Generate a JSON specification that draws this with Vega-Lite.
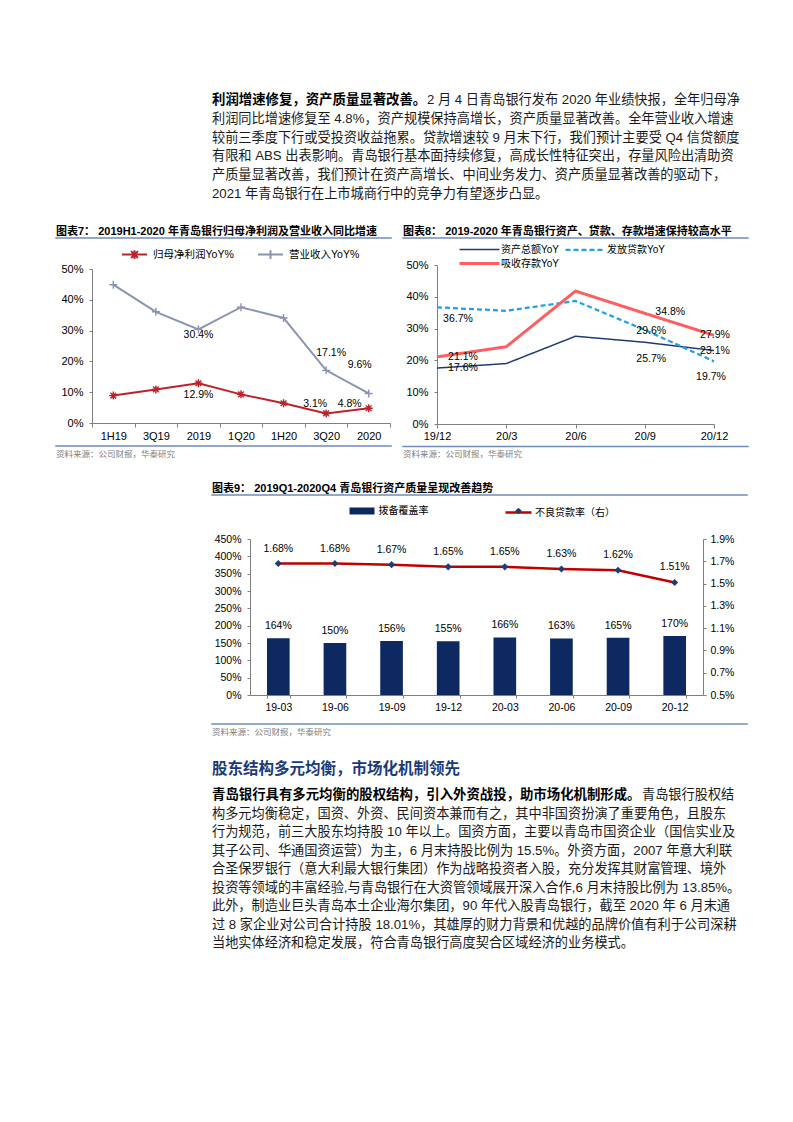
{
  "$schema": "https://vega.github.io/schema/vega-lite/v6.json",
  "background": "white",
  "padding": {"left": 55, "top": 93, "right": 10, "bottom": 10},
  "config": {
    "font": "Liberation Sans, Noto Sans CJK SC",
    "view": {"stroke": null},
    "axis": {"domainColor": "#7f7f7f", "tickColor": "#7f7f7f", "labelColor": "#000000", "grid": false, "labelFontSize": 11, "domainWidth": 1, "tickWidth": 1},
    "legend": {"padding": 0, "labelColor": "#000000", "labelFontSize": 10.5},
    "title": {"anchor": "start", "frame": "group", "color": "#000000"},
    "text": {"fontSize": 10.5, "color": "#000000"}
  },
  "resolve": {"scale": {"color": "independent", "stroke": "independent", "fill": "independent", "shape": "independent", "strokeDash": "independent", "strokeWidth": "independent"}, "legend": {"color": "independent", "stroke": "independent", "fill": "independent", "shape": "independent", "strokeDash": "independent", "strokeWidth": "independent"}},
  "spacing": 24,
  "vconcat": [
    {
      "spacing": 0,
      "hconcat": [
        {"width": 156, "height": 1, "data": {"values": []}, "mark": "point"},
        {
          "width": 524, "height": 94,
          "data": {"values": [
            {"ln": 1, "c": 0, "w": "b", "t": "利润增速修复，资产质量显著改善。"},
            {"ln": 1, "c": 16, "w": "n", "t": "2 月 4 日青岛银行发布 2020 年业绩快报，全年归母净"},
            {"ln": 2, "c": 0, "w": "n", "t": "利润同比增速修复至 4.8%，资产规模保持高增长，资产质量显著改善。全年营业收入增速"},
            {"ln": 3, "c": 0, "w": "n", "t": "较前三季度下行或受投资收益拖累。贷款增速较 9 月末下行，我们预计主要受 Q4 信贷额度"},
            {"ln": 4, "c": 0, "w": "n", "t": "有限和 ABS 出表影响。青岛银行基本面持续修复，高成长性特征突出，存量风险出清助资"},
            {"ln": 5, "c": 0, "w": "n", "t": "产质量显著改善，我们预计在资产高增长、中间业务发力、资产质量显著改善的驱动下，"},
            {"ln": 6, "c": 0, "w": "n", "t": "2021 年青岛银行在上市城商行中的竞争力有望逐步凸显。"}
          ]},
          "encoding": {
            "x": {"field": "c", "type": "quantitative", "scale": {"domain": [0, 39], "nice": false, "zero": false}, "axis": null},
            "y": {"field": "ln", "type": "ordinal", "scale": {"type": "point", "padding": 0}, "axis": null},
            "text": {"field": "t", "type": "nominal"}
          },
          "layer": [
            {"transform": [{"filter": "datum.w === 'b'"}], "mark": {"type": "text", "align": "left", "baseline": "middle", "fontSize": 13.4, "fontWeight": "bold", "color": "#000000"}},
            {"transform": [{"filter": "datum.w === 'n'"}], "mark": {"type": "text", "align": "left", "baseline": "middle", "fontSize": 13.2, "color": "#1a1a1a"}}
          ]
        }
      ]
    },
    {
      "spacing": 22,
      "resolve": {"scale": {"color": "independent", "stroke": "independent", "fill": "independent", "shape": "independent", "strokeDash": "independent", "strokeWidth": "independent"}, "legend": {"color": "independent", "stroke": "independent", "fill": "independent", "shape": "independent", "strokeDash": "independent", "strokeWidth": "independent"}},
      "vconcat": [
        {
          "spacing": 10,
          "resolve": {"scale": {"color": "independent", "stroke": "independent", "fill": "independent", "shape": "independent", "strokeDash": "independent", "strokeWidth": "independent"}, "legend": {"color": "independent", "stroke": "independent", "fill": "independent", "shape": "independent", "strokeDash": "independent", "strokeWidth": "independent"}},
          "hconcat": [
            {
              "spacing": 8,
              "resolve": {"scale": {"color": "independent", "shape": "independent"}, "legend": {"color": "independent", "shape": "independent"}},
              "vconcat": [
                {"width": 335, "height": 0.01, "view": {"stroke": "#6E8DBE", "strokeWidth": 1.5}, "title": {"text": "图表7：  2019H1-2020 年青岛银行归母净利润及营业收入同比增速", "fontSize": 11, "fontWeight": "bold", "offset": 1}, "data": {"values": []}, "mark": "point"},
                {
                  "spacing": 4,
                  "resolve": {"scale": {"color": "independent", "shape": "independent"}, "legend": {"color": "independent", "shape": "independent"}},
                  "vconcat": [
                    {
                      "spacing": 0,
                      "resolve": {"scale": {"color": "independent", "shape": "independent"}, "legend": {"color": "independent", "shape": "independent"}},
                      "hconcat": [
                        {"width": 4, "height": 1, "data": {"values": []}, "mark": "point"},
                        {
                          "width": 298, "height": 154,
                          "data": {"values": [
                            {"s": "营业收入YoY%", "q": "1H19", "v": 0.449},
                            {"s": "营业收入YoY%", "q": "3Q19", "v": 0.361},
                            {"s": "营业收入YoY%", "q": "2019", "v": 0.304},
                            {"s": "营业收入YoY%", "q": "1Q20", "v": 0.376},
                            {"s": "营业收入YoY%", "q": "1H20", "v": 0.341},
                            {"s": "营业收入YoY%", "q": "3Q20", "v": 0.171},
                            {"s": "营业收入YoY%", "q": "2020", "v": 0.096},
                            {"s": "归母净利润YoY%", "q": "1H19", "v": 0.089},
                            {"s": "归母净利润YoY%", "q": "3Q19", "v": 0.109},
                            {"s": "归母净利润YoY%", "q": "2019", "v": 0.129},
                            {"s": "归母净利润YoY%", "q": "1Q20", "v": 0.093},
                            {"s": "归母净利润YoY%", "q": "1H20", "v": 0.064},
                            {"s": "归母净利润YoY%", "q": "3Q20", "v": 0.031},
                            {"s": "归母净利润YoY%", "q": "2020", "v": 0.048}
                          ]},
                          "encoding": {
                            "x": {"field": "q", "type": "nominal", "scale": {"type": "band", "domain": ["1H19", "3Q19", "2019", "1Q20", "1H20", "3Q20", "2020"], "paddingInner": 0, "paddingOuter": 0}, "axis": {"title": null, "labelAngle": 0, "tickBand": "extent", "tickSize": 4, "labelPadding": 3, "labelFontSize": 11}},
                            "y": {"field": "v", "type": "quantitative", "scale": {"domain": [0, 0.5]}, "axis": {"title": null, "values": [0, 0.1, 0.2, 0.3, 0.4, 0.5], "format": ".0%", "tickSize": 3, "labelPadding": 6, "labelFontSize": 11}}
                          },
                          "layer": [
                            {"mark": {"type": "point", "filled": false, "opacity": 0, "size": 1}, "encoding": {
                              "color": {"field": "s", "type": "nominal", "scale": {"domain": ["归母净利润YoY%", "营业收入YoY%"], "range": ["#C0202A", "#8A93B2"]}, "legend": {"title": null, "orient": "none", "direction": "horizontal", "legendX": 35, "legendY": -22, "symbolSize": 156, "symbolStrokeWidth": 2, "symbolOpacity": 1, "labelOffset": 11, "columnPadding": 20, "labelFontSize": 10.5}},
                              "shape": {"field": "s", "type": "nominal", "scale": {"domain": ["归母净利润YoY%", "营业收入YoY%"], "range": ["M-2,0L2,0M-0.55,-0.55L0.55,0.55M-0.55,0.55L0.55,-0.55M0,-0.7L0,0.7", "M-2,0L2,0M0,-0.7L0,0.7"]}, "legend": {"title": null, "orient": "none", "direction": "horizontal", "legendX": 35, "legendY": -22, "symbolSize": 156, "symbolStrokeWidth": 2, "symbolOpacity": 1, "labelOffset": 11, "columnPadding": 20, "labelFontSize": 10.5}}
                            }},
                            {"mark": {"type": "line", "strokeWidth": 2}, "encoding": {"color": {"field": "s", "type": "nominal"}}},
                            {"transform": [{"filter": "datum.s === '归母净利润YoY%'"}], "mark": {"type": "point", "shape": "M-1,0L1,0M0,-1L0,1M-0.71,-0.71L0.71,0.71M-0.71,0.71L0.71,-0.71", "filled": false, "strokeWidth": 1.4, "size": 64, "opacity": 1}, "encoding": {"color": {"field": "s", "type": "nominal"}}},
                            {"transform": [{"filter": "datum.s === '营业收入YoY%'"}], "mark": {"type": "point", "shape": "M-1,0L1,0M0,-1L0,1", "filled": false, "strokeWidth": 1.4, "size": 64, "opacity": 1}, "encoding": {"color": {"field": "s", "type": "nominal"}}},
                            {"transform": [{"filter": "datum.s === '营业收入YoY%' && datum.q === '2019'"}], "mark": {"type": "text", "dy": 5.5, "fontSize": 10.5}, "encoding": {"text": {"field": "v", "type": "quantitative", "format": ".1%"}}},
                            {"transform": [{"filter": "datum.s === '归母净利润YoY%' && datum.q === '2019'"}], "mark": {"type": "text", "dy": 12, "fontSize": 10.5}, "encoding": {"text": {"field": "v", "type": "quantitative", "format": ".1%"}}},
                            {"transform": [{"filter": "datum.s === '营业收入YoY%' && datum.q === '3Q20'"}], "mark": {"type": "text", "dx": 5, "dy": -17.5, "fontSize": 10.5}, "encoding": {"text": {"field": "v", "type": "quantitative", "format": ".1%"}}},
                            {"transform": [{"filter": "datum.s === '营业收入YoY%' && datum.q === '2020'"}], "mark": {"type": "text", "dx": -9, "dy": -28, "fontSize": 10.5}, "encoding": {"text": {"field": "v", "type": "quantitative", "format": ".1%"}}},
                            {"transform": [{"filter": "datum.s === '归母净利润YoY%' && datum.q === '3Q20'"}], "mark": {"type": "text", "dx": -11, "dy": -9.5, "fontSize": 10.5}, "encoding": {"text": {"field": "v", "type": "quantitative", "format": ".1%"}}},
                            {"transform": [{"filter": "datum.s === '归母净利润YoY%' && datum.q === '2020'"}], "mark": {"type": "text", "dx": -19, "dy": -4.5, "fontSize": 10.5}, "encoding": {"text": {"field": "v", "type": "quantitative", "format": ".1%"}}}
                          ]
                        }
                      ]
                    },
                    {"width": 335, "height": 0.01, "view": {"stroke": "#6E8DBE", "strokeWidth": 1.5}, "title": {"text": "资料来源：公司财报，华泰研究", "orient": "bottom", "fontSize": 8.5, "fontWeight": "normal", "color": "#808080", "offset": 3.5}, "data": {"values": []}, "mark": "point"}
                  ]
                }
              ]
            },
            {
              "spacing": 4,
              "resolve": {"scale": {"color": "independent", "strokeDash": "independent", "strokeWidth": "independent"}, "legend": {"color": "independent", "strokeDash": "independent", "strokeWidth": "independent"}},
              "vconcat": [
                {"width": 345, "height": 0.01, "view": {"stroke": "#6E8DBE", "strokeWidth": 1.5}, "title": {"text": "图表8：  2019-2020 年青岛银行资产、贷款、存款增速保持较高水平", "fontSize": 11, "fontWeight": "bold", "offset": 1}, "data": {"values": []}, "mark": "point"},
                {
                  "spacing": 4.5,
                  "resolve": {"scale": {"color": "independent", "strokeDash": "independent", "strokeWidth": "independent"}, "legend": {"color": "independent", "strokeDash": "independent", "strokeWidth": "independent"}},
                  "vconcat": [
                    {
                      "spacing": 0,
                      "resolve": {"scale": {"color": "independent", "strokeDash": "independent", "strokeWidth": "independent"}, "legend": {"color": "independent", "strokeDash": "independent", "strokeWidth": "independent"}},
                      "hconcat": [
                        {"width": 2, "height": 1, "data": {"values": []}, "mark": "point"},
                        {
                          "width": 277, "height": 159,
                          "data": {"values": [
                            {"s": "资产总额YoY", "q": "19/12", "v": 0.176},
                            {"s": "资产总额YoY", "q": "20/3", "v": 0.190},
                            {"s": "资产总额YoY", "q": "20/6", "v": 0.276},
                            {"s": "资产总额YoY", "q": "20/9", "v": 0.257},
                            {"s": "资产总额YoY", "q": "20/12", "v": 0.231},
                            {"s": "发放贷款YoY", "q": "19/12", "v": 0.367},
                            {"s": "发放贷款YoY", "q": "20/3", "v": 0.356},
                            {"s": "发放贷款YoY", "q": "20/6", "v": 0.387},
                            {"s": "发放贷款YoY", "q": "20/9", "v": 0.296},
                            {"s": "发放贷款YoY", "q": "20/12", "v": 0.197},
                            {"s": "吸收存款YoY", "q": "19/12", "v": 0.211},
                            {"s": "吸收存款YoY", "q": "20/3", "v": 0.243},
                            {"s": "吸收存款YoY", "q": "20/6", "v": 0.418},
                            {"s": "吸收存款YoY", "q": "20/9", "v": 0.348},
                            {"s": "吸收存款YoY", "q": "20/12", "v": 0.279}
                          ]},
                          "encoding": {
                            "x": {"field": "q", "type": "ordinal", "scale": {"type": "point", "padding": 0, "domain": ["19/12", "20/3", "20/6", "20/9", "20/12"]}, "axis": {"title": null, "labelAngle": 0, "tickSize": 4, "labelPadding": 2, "labelFontSize": 11}},
                            "y": {"field": "v", "type": "quantitative", "scale": {"domain": [0, 0.5]}, "axis": {"title": null, "values": [0, 0.1, 0.2, 0.3, 0.4, 0.5], "format": ".0%", "tickSize": 3, "labelPadding": 6, "labelFontSize": 11}}
                          },
                          "layer": [
                            {"mark": {"type": "line"}, "encoding": {
                              "color": {"field": "s", "type": "nominal", "scale": {"domain": ["资产总额YoY", "发放贷款YoY", "吸收存款YoY"], "range": ["#1F3B73", "#1FA2E6", "#FF5E5E"]}, "legend": {"title": null, "orient": "none", "direction": "horizontal", "columns": 2, "legendX": 36, "legendY": -22, "symbolType": "M-4,0H4", "symbolSize": 100, "labelOffset": 15, "columnPadding": 2, "rowPadding": 2, "labelFontSize": 10}},
                              "strokeDash": {"field": "s", "type": "nominal", "scale": {"domain": ["资产总额YoY", "发放贷款YoY", "吸收存款YoY"], "range": [[1, 0], [5, 3], [1, 0]]}, "legend": {"title": null, "orient": "none", "direction": "horizontal", "columns": 2, "legendX": 36, "legendY": -22, "symbolType": "M-4,0H4", "symbolSize": 100, "labelOffset": 15, "columnPadding": 2, "rowPadding": 2, "labelFontSize": 10}},
                              "strokeWidth": {"field": "s", "type": "nominal", "scale": {"domain": ["资产总额YoY", "发放贷款YoY", "吸收存款YoY"], "range": [1.5, 3]}, "legend": {"title": null, "orient": "none", "direction": "horizontal", "columns": 2, "legendX": 36, "legendY": -22, "symbolType": "M-4,0H4", "symbolSize": 100, "labelOffset": 15, "columnPadding": 2, "rowPadding": 2, "labelFontSize": 10}}
                            }},
                            {"transform": [{"filter": "datum.s === '发放贷款YoY' && datum.q === '19/12'"}], "mark": {"type": "text", "dx": 21, "dy": 12}, "encoding": {"text": {"field": "v", "type": "quantitative", "format": ".1%"}}},
                            {"transform": [{"filter": "datum.s !== '发放贷款YoY' && datum.q === '19/12'"}], "mark": {"type": "text", "dx": 26, "dy": 0}, "encoding": {"text": {"field": "v", "type": "quantitative", "format": ".1%"}}},
                            {"transform": [{"filter": "datum.s === '资产总额YoY' && datum.q === '20/9'"}], "mark": {"type": "text", "dx": 6.5, "dy": 17}, "encoding": {"text": {"field": "v", "type": "quantitative", "format": ".1%"}}},
                            {"transform": [{"filter": "datum.s === '发放贷款YoY' && datum.q === '20/9'"}], "mark": {"type": "text", "dx": 6.5, "dy": 1}, "encoding": {"text": {"field": "v", "type": "quantitative", "format": ".1%"}}},
                            {"transform": [{"filter": "datum.s === '吸收存款YoY' && datum.q === '20/9'"}], "mark": {"type": "text", "dx": 25.5, "dy": -1}, "encoding": {"text": {"field": "v", "type": "quantitative", "format": ".1%"}}},
                            {"transform": [{"filter": "datum.s !== '发放贷款YoY' && datum.q === '20/12'"}], "mark": {"type": "text", "dx": 1, "dy": 0}, "encoding": {"text": {"field": "v", "type": "quantitative", "format": ".1%"}}},
                            {"transform": [{"filter": "datum.s === '发放贷款YoY' && datum.q === '20/12'"}], "mark": {"type": "text", "dx": -3, "dy": 15.5}, "encoding": {"text": {"field": "v", "type": "quantitative", "format": ".1%"}}}
                          ]
                        }
                      ]
                    },
                    {"width": 345, "height": 0.01, "view": {"stroke": "#6E8DBE", "strokeWidth": 1.5}, "title": {"text": "资料来源：公司财报，华泰研究", "orient": "bottom", "fontSize": 8.5, "fontWeight": "normal", "color": "#808080", "offset": 3.5}, "data": {"values": []}, "mark": "point"}
                  ]
                }
              ]
            }
          ]
        },
        {
          "spacing": 24,
          "resolve": {"scale": {"color": "independent", "stroke": "independent", "fill": "independent"}, "legend": {"color": "independent", "stroke": "independent", "fill": "independent"}},
          "vconcat": [
            {
              "spacing": 0,
              "resolve": {"scale": {"color": "independent", "stroke": "independent", "fill": "independent"}, "legend": {"color": "independent", "stroke": "independent", "fill": "independent"}},
              "hconcat": [
                {"width": 155, "height": 1, "data": {"values": []}, "mark": "point"},
                {
                  "spacing": 10,
                  "resolve": {"scale": {"color": "independent", "stroke": "independent", "fill": "independent"}, "legend": {"color": "independent", "stroke": "independent", "fill": "independent"}},
                  "vconcat": [
                    {"width": 535, "height": 0.01, "view": {"stroke": "#6E8DBE", "strokeWidth": 1.5}, "title": {"text": "图表9：  2019Q1-2020Q4 青岛银行资产质量呈现改善趋势", "fontSize": 11, "fontWeight": "bold", "offset": 1}, "data": {"values": []}, "mark": "point"},
                    {
                      "spacing": 10,
                      "resolve": {"scale": {"color": "independent", "stroke": "independent", "fill": "independent"}, "legend": {"color": "independent", "stroke": "independent", "fill": "independent"}},
                      "vconcat": [
                        {
                          "spacing": 0,
                          "resolve": {"scale": {"color": "independent", "stroke": "independent", "fill": "independent"}, "legend": {"color": "independent", "stroke": "independent", "fill": "independent"}},
                          "hconcat": [
                            {"width": 2, "height": 1, "data": {"values": []}, "mark": "point"},
                            {
                              "width": 453, "height": 156,
                              "data": {"values": [
                                {"q": "19-03", "cov": 1.64, "npl": 0.0168},
                                {"q": "19-06", "cov": 1.50, "npl": 0.0168},
                                {"q": "19-09", "cov": 1.56, "npl": 0.0167},
                                {"q": "19-12", "cov": 1.55, "npl": 0.0165},
                                {"q": "20-03", "cov": 1.66, "npl": 0.0165},
                                {"q": "20-06", "cov": 1.63, "npl": 0.0163},
                                {"q": "20-09", "cov": 1.65, "npl": 0.0162},
                                {"q": "20-12", "cov": 1.70, "npl": 0.0151}
                              ]},
                              "encoding": {
                                "x": {"field": "q", "type": "nominal", "scale": {"type": "band", "domain": ["19-03", "19-06", "19-09", "19-12", "20-03", "20-06", "20-09", "20-12"], "paddingInner": 0.6, "paddingOuter": 0.3}, "axis": {"title": null, "labelAngle": 0, "tickBand": "extent", "tickSize": 3, "labelPadding": 4, "labelFontSize": 10.5}}
                              },
                              "layer": [
                                {
                                  "encoding": {"y": {"field": "cov", "type": "quantitative", "scale": {"domain": [0, 4.5]}, "axis": {"title": null, "orient": "left", "values": [0, 0.5, 1, 1.5, 2, 2.5, 3, 3.5, 4, 4.5], "format": ".0%", "tickSize": 3, "labelPadding": 6, "labelFontSize": 10.5}}},
                                  "layer": [
                                    {"mark": {"type": "bar"}, "encoding": {"color": {"datum": "拨备覆盖率", "scale": {"range": ["#0E2862"]}, "legend": {"title": null, "orient": "none", "legendX": 107, "legendY": -33, "symbolType": "M-2.5,-0.7H2.5V0.7H-2.5Z", "symbolSize": 100, "symbolStrokeWidth": 0, "labelOffset": 11.5, "labelFontSize": 10}}}},
                                    {"mark": {"type": "text", "dy": -12, "fontSize": 10.5}, "encoding": {"text": {"field": "cov", "type": "quantitative", "format": ".0%"}}}
                                  ]
                                },
                                {
                                  "encoding": {"y": {"field": "npl", "type": "quantitative", "scale": {"domain": [0.005, 0.019], "zero": false}, "axis": {"title": null, "orient": "right", "values": [0.005, 0.007, 0.009, 0.011, 0.013, 0.015, 0.017, 0.019], "format": ".1%", "tickSize": 3, "labelPadding": 4, "labelFontSize": 10.5}}},
                                  "layer": [
                                    {"mark": {"type": "line", "strokeWidth": 2.5}, "encoding": {"stroke": {"datum": "不良贷款率（右）", "scale": {"range": ["#C00000"]}, "legend": {"title": null, "orient": "none", "legendX": 262, "legendY": -33, "symbolType": "M-2.6,0H2.6", "symbolSize": 100, "symbolStrokeWidth": 2.5, "labelOffset": 10, "labelFontSize": 10}}}},
                                    {"mark": {"type": "point", "shape": "diamond", "filled": true, "size": 50, "opacity": 1}, "encoding": {"fill": {"datum": "marker", "scale": {"range": ["#1F3C78"]}, "legend": {"title": null, "orient": "none", "legendX": 263.5, "legendY": -33, "symbolType": "diamond", "symbolSize": 45, "labelExpr": "''", "labelFontSize": 10}}}},
                                    {"mark": {"type": "text", "dy": -15, "fontSize": 10.5}, "encoding": {"text": {"field": "npl", "type": "quantitative", "format": ".2%"}}}
                                  ]
                                }
                              ],
                              "resolve": {"scale": {"y": "independent"}}
                            }
                          ]
                        },
                        {"width": 535, "height": 0.01, "view": {"stroke": "#6E8DBE", "strokeWidth": 1.5}, "title": {"text": "资料来源：公司财报，华泰研究", "orient": "bottom", "fontSize": 8.5, "fontWeight": "normal", "color": "#808080", "offset": 3.5}, "data": {"values": []}, "mark": "point"}
                      ]
                    }
                  ]
                }
              ]
            },
            {
              "spacing": 0,
              "hconcat": [
                {"width": 156, "height": 1, "data": {"values": []}, "mark": "point"},
                {
                  "width": 524, "height": 148,
                  "title": {"text": "股东结构多元均衡，市场化机制领先", "fontSize": 15.5, "fontWeight": "bold", "color": "#1C3A78", "offset": 11},
                  "data": {"values": [
                    {"ln": 1, "c": 0, "w": "b", "t": "青岛银行具有多元均衡的股权结构，引入外资战投，助市场化机制形成。"},
                    {"ln": 1, "c": 32, "w": "n", "t": "青岛银行股权结"},
                    {"ln": 2, "c": 0, "w": "n", "t": "构多元均衡稳定，国资、外资、民间资本兼而有之，其中非国资扮演了重要角色，且股东"},
                    {"ln": 3, "c": 0, "w": "n", "t": "行为规范，前三大股东均持股 10 年以上。国资方面，主要以青岛市国资企业（国信实业及"},
                    {"ln": 4, "c": 0, "w": "n", "t": "其子公司、华通国资运营）为主，6 月末持股比例为 15.5%。外资方面，2007 年意大利联"},
                    {"ln": 5, "c": 0, "w": "n", "t": "合圣保罗银行（意大利最大银行集团）作为战略投资者入股，充分发挥其财富管理、境外"},
                    {"ln": 6, "c": 0, "w": "n", "t": "投资等领域的丰富经验,与青岛银行在大资管领域展开深入合作,6 月末持股比例为 13.85%。"},
                    {"ln": 7, "c": 0, "w": "n", "t": "此外，制造业巨头青岛本土企业海尔集团，90 年代入股青岛银行，截至 2020 年 6 月末通"},
                    {"ln": 8, "c": 0, "w": "n", "t": "过 8 家企业对公司合计持股 18.01%，其雄厚的财力背景和优越的品牌价值有利于公司深耕"},
                    {"ln": 9, "c": 0, "w": "n", "t": "当地实体经济和稳定发展，符合青岛银行高度契合区域经济的业务模式。"}
                  ]},
                  "encoding": {
                    "x": {"field": "c", "type": "quantitative", "scale": {"domain": [0, 39], "nice": false, "zero": false}, "axis": null},
                    "y": {"field": "ln", "type": "ordinal", "scale": {"type": "point", "padding": 0}, "axis": null},
                    "text": {"field": "t", "type": "nominal"}
                  },
                  "layer": [
                    {"transform": [{"filter": "datum.w === 'b'"}], "mark": {"type": "text", "align": "left", "baseline": "middle", "fontSize": 13.4, "fontWeight": "bold", "color": "#000000"}},
                    {"transform": [{"filter": "datum.w === 'n'"}], "mark": {"type": "text", "align": "left", "baseline": "middle", "fontSize": 13.2, "color": "#1a1a1a"}}
                  ]
                }
              ]
            }
          ]
        }
      ]
    }
  ]
}
